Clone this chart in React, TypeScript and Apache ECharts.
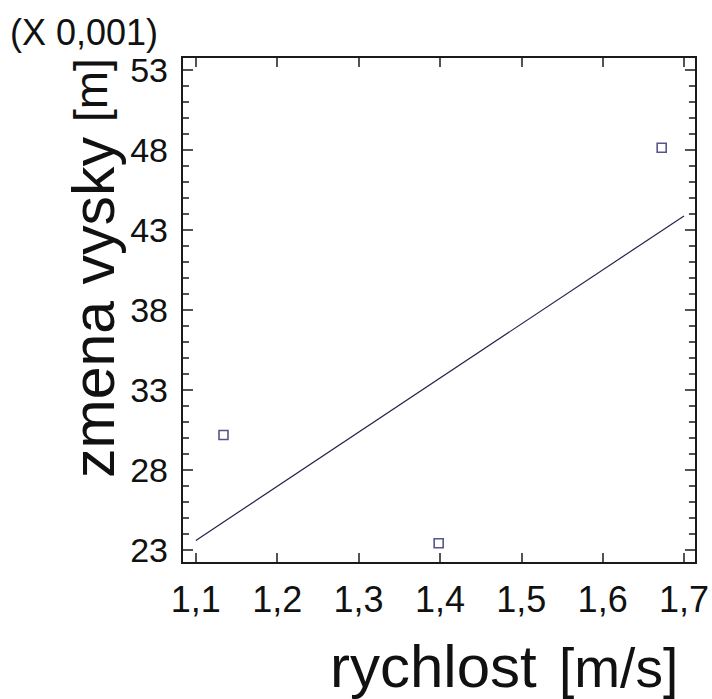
import React, { useEffect, useRef } from "react";
import * as echarts from "echarts";

const xTicks = [1.1, 1.2, 1.3, 1.4, 1.5, 1.6, 1.7];
const yTicks = [23, 28, 33, 38, 43, 48, 53];
const yMinorTicks = [24, 25, 26, 27, 29, 30, 31, 32, 34, 35, 36, 37, 39, 40, 41, 42, 44, 45, 46, 47, 49, 50, 51, 52];
const speeds = [1.134, 1.3985, 1.6726];
const heights = [30.19, 23.42, 48.14];
const fitX = [1.1, 1.7];
const fitY = [23.6, 43.88];

const FONT = "'Liberation Sans', Arial, sans-serif";
const X_MIN = 1.083;
const X_MAX = 1.7147;
const Y_MIN = 22.19;
const Y_MAX = 53.81;

export default function App() {
  const ref = useRef<HTMLDivElement>(null);
  useEffect(() => {
    document.body.style.margin = "0";
    const chart = echarts.init(ref.current!, null, { renderer: "svg" });
    const axisLine = { show: true, lineStyle: { color: "#1a1a1a", width: 2 } };
    const tickStyle = { color: "#1a1a1a", width: 1.5 };
    const fmt = (v: number) => v.toFixed(1).replace(".", ",");
    chart.setOption({
      animation: false,
      backgroundColor: "#ffffff",
      grid: { left: 182, top: 57, width: 515, height: 506 },
      xAxis: [
        {
          type: "value",
          position: "bottom",
          min: X_MIN,
          max: X_MAX,
          axisLine,
          splitLine: { show: false },
          axisTick: { show: true, inside: true, length: 10, customValues: xTicks, lineStyle: tickStyle },
          axisLabel: {
            show: true,
            customValues: xTicks,
            formatter: fmt,
            fontSize: 36,
            fontFamily: FONT,
            color: "#111",
            margin: 18,
          },
        },
        {
          type: "value",
          position: "top",
          min: X_MIN,
          max: X_MAX,
          axisLine,
          splitLine: { show: false },
          axisTick: { show: true, inside: true, length: 10, customValues: xTicks, lineStyle: tickStyle },
          axisLabel: { show: false },
        },
      ],
      yAxis: [
        {
          type: "value",
          position: "left",
          min: Y_MIN,
          max: Y_MAX,
          axisLine,
          splitLine: { show: false },
          axisTick: { show: true, inside: true, length: 11, customValues: yTicks, lineStyle: tickStyle },
          axisLabel: {
            show: true,
            customValues: yTicks,
            fontSize: 34,
            fontFamily: FONT,
            color: "#111",
            margin: 14,
          },
        },
        {
          type: "value",
          position: "left",
          min: Y_MIN,
          max: Y_MAX,
          axisLine,
          splitLine: { show: false },
          axisTick: { show: true, inside: true, length: 7, customValues: yMinorTicks, lineStyle: tickStyle },
          axisLabel: { show: false },
        },
        {
          type: "value",
          position: "right",
          min: Y_MIN,
          max: Y_MAX,
          axisLine,
          splitLine: { show: false },
          axisTick: { show: true, inside: true, length: 11, customValues: yTicks, lineStyle: tickStyle },
          axisLabel: { show: false },
        },
        {
          type: "value",
          position: "right",
          min: Y_MIN,
          max: Y_MAX,
          axisLine,
          splitLine: { show: false },
          axisTick: { show: true, inside: true, length: 7, customValues: yMinorTicks, lineStyle: tickStyle },
          axisLabel: { show: false },
        },
      ],
      series: [
        {
          type: "line",
          xAxisIndex: 0,
          yAxisIndex: 0,
          data: fitX.map((x, i) => [x, fitY[i]]),
          showSymbol: false,
          lineStyle: { color: "#23234d", width: 1.2 },
          silent: true,
        },
        {
          type: "scatter",
          xAxisIndex: 0,
          yAxisIndex: 0,
          data: speeds.map((x, i) => [x, heights[i]]),
          symbol: "rect",
          symbolSize: 9,
          itemStyle: { color: "#ffffff", borderColor: "#2b2b6b", borderWidth: 1.6 },
        },
      ],
      graphic: [
        {
          type: "text",
          x: 10,
          y: 32.5,
          style: { text: "(X 0,001)", font: `36px ${FONT}`, fill: "#111", align: "left", verticalAlign: "middle" },
        },
        {
          type: "text",
          x: 330,
          y: 666,
          style: { text: "rychlost", font: `60px ${FONT}`, fill: "#111", align: "left", verticalAlign: "middle" },
        },
        {
          type: "text",
          x: 559,
          y: 668,
          style: { text: "[m/s]", font: `55px ${FONT}`, fill: "#111", align: "left", verticalAlign: "middle" },
        },
        {
          type: "text",
          x: 94,
          y: 478,
          rotation: Math.PI / 2,
          style: { text: "zmena vysky", font: `59px ${FONT}`, fill: "#111", align: "left", verticalAlign: "middle" },
        },
        {
          type: "text",
          x: 91,
          y: 122,
          rotation: Math.PI / 2,
          style: { text: "[m]", font: `46px ${FONT}`, fill: "#111", align: "left", verticalAlign: "middle" },
        },
      ],
    });
    return () => chart.dispose();
  }, []);
  return <div ref={ref} style={{ width: 712, height: 699 }} />;
}
